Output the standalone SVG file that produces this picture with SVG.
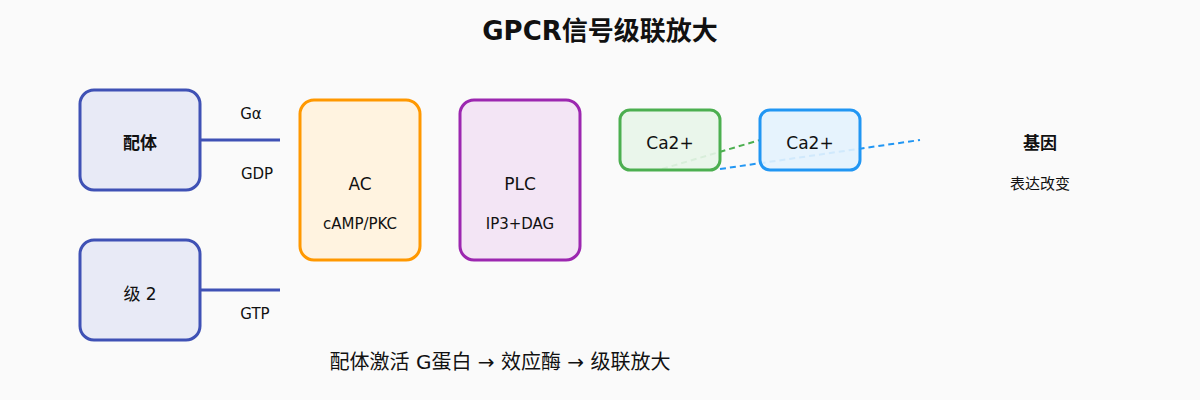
<svg xmlns="http://www.w3.org/2000/svg" width="1200" height="400" viewBox="0 0 1200 400">
<style>
text{font-family:"DejaVu Sans","Noto Sans CJK SC",sans-serif;fill:#111;text-anchor:middle;dominant-baseline:central}
.n{stroke-width:3}
.l{font-size:17px}
.s{font-size:15px}
</style>
<rect width="1200" height="400" fill="#fafafa"/>
<text x="600" y="31" font-size="26" font-weight="bold">GPCR信号级联放大</text>
<g id="connectors" fill="none">
<line x1="200" y1="140" x2="280" y2="140" stroke="#3f51b5" stroke-width="3"/>
<line x1="200" y1="290" x2="280" y2="290" stroke="#3f51b5" stroke-width="3"/>
<line x1="662" y1="169" x2="760" y2="140" stroke="#4caf50" stroke-width="2" stroke-dasharray="6,4"/>
<line x1="720" y1="169" x2="920" y2="140" stroke="#2196f3" stroke-width="2" stroke-dasharray="6,4"/>
<text class="s" x="251" y="114">Gα</text>
<text class="s" x="257" y="174">GDP</text>
<text class="s" x="255" y="314">GTP</text>
</g>
<g id="ligand"><rect class="n" x="80" y="90" width="120" height="100" rx="14" fill="#e8eaf6" stroke="#3f51b5"/><text class="l" x="140" y="143" font-weight="bold">配体</text></g>
<g id="level2"><rect class="n" x="80" y="240" width="120" height="100" rx="14" fill="#e8eaf6" stroke="#3f51b5"/><text class="l" x="140" y="294">级 2</text></g>
<g id="ac"><rect class="n" x="300" y="100" width="120" height="160" rx="14" fill="#fff3e0" stroke="#ff9800"/><text class="l" x="360" y="184">AC</text><text class="s" x="360" y="224">cAMP/PKC</text></g>
<g id="plc"><rect class="n" x="460" y="100" width="120" height="160" rx="14" fill="#f3e5f5" stroke="#9c27b0"/><text class="l" x="520" y="184">PLC</text><text class="s" x="520" y="224">IP3+DAG</text></g>
<g id="ca1"><rect class="n" x="620" y="110" width="100" height="60" rx="10" fill="#e8f5e9" stroke="#4caf50" fill-opacity="0.9"/><text class="l" x="670" y="143">Ca2+</text></g>
<g id="ca2"><rect class="n" x="760" y="110" width="100" height="60" rx="10" fill="#e3f2fd" stroke="#2196f3" fill-opacity="0.9"/><text class="l" x="810" y="143">Ca2+</text></g>
<g id="gene"><text class="l" x="1040" y="143" font-weight="bold">基因</text><text class="s" x="1040" y="184">表达改变</text></g>
<text x="500" y="362" font-size="20">配体激活 G蛋白 → 效应酶 → 级联放大</text>
</svg>
